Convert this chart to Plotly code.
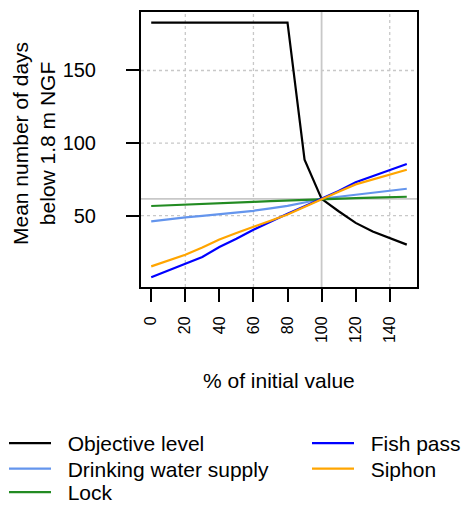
import plotly.graph_objects as go

pct = [0, 10, 20, 30, 40, 50, 60, 70, 80, 90, 100, 110, 120, 130, 140, 150]
objective = [183, 183, 183, 183, 183, 183, 183, 183, 183, 88.5, 61.5, 53, 45, 39, 34.5, 30]
drinking = [46, 47.5, 48.8, 49.8, 50.8, 52, 53.3, 55, 56.7, 59, 61.5, 63, 64.5, 66, 67.3, 68.5]
lock = [56.6, 57, 57.5, 58, 58.6, 59, 59.5, 60, 60.5, 61, 61.5, 61.8, 62.1, 62.4, 62.7, 63]
fishpass = [7.5, 12.3, 17, 21.5, 28.4, 34, 40.3, 46, 51.3, 56.5, 61.5, 67, 73, 77, 81, 85.5]
siphon = [15, 19, 23, 28, 33.5, 38, 42, 46.5, 50.7, 56, 61.5, 66.5, 71.5, 75, 78.2, 81.6]

x_ticks = [0, 20, 40, 60, 80, 100, 120, 140]
y_ticks = [50, 100, 150]
x_grid = [20, 60, 140]
y_grid = [50, 100, 150]
ref_x = 100
ref_y = 61.5

# name, values, colour, legend column, legend row
series = [
    ("Objective level", objective, "#000000", 0, 0),
    ("Drinking water supply", drinking, "#6495ED", 0, 1),
    ("Lock", lock, "#228B22", 0, 2),
    ("Fish pass", fishpass, "#0000FF", 1, 0),
    ("Siphon", siphon, "#FFA500", 1, 1),
]

FONT = "Liberation Sans, Arial, sans-serif"
OFF = 8  # page body margin
W, H = 469 - OFF, 506 - OFF
L, T = 141 - OFF, 12 - OFF
R = W - (417 - OFF)
B = H - (287 - OFF)
PW, PH = W - L - R, H - T - B


def px(x):
    return (x - OFF - L) / PW


def py(y):
    return (H - B - (y - OFF)) / PH


col_x = [4, 307]
row_y = [445, 470.5, 494]
ROW_OFF = 22
PAD = "\u00a0\u00a0"

fig = go.Figure()
legends = {}
for i, (name, vals, col, c, r) in enumerate(series):
    lid = "legend" if i == 0 else "legend%d" % (i + 1)
    fig.add_trace(go.Scatter(x=pct, y=vals, mode="lines", name=PAD + name,
                             line=dict(color=col, width=2.2), legend=lid))
    legends[lid] = dict(orientation="v", xanchor="left", yanchor="top",
                        x=px(col_x[c]), y=py(row_y[r] - ROW_OFF),
                        font=dict(size=21), bgcolor="rgba(0,0,0,0)",
                        itemwidth=42)

shapes = []
for gx in x_grid:
    shapes.append(dict(type="line", xref="x", yref="paper", x0=gx, x1=gx, y0=0, y1=1,
                       line=dict(color="#C8C8C8", width=1.3, dash="dot"), layer="below"))
for gy in y_grid:
    shapes.append(dict(type="line", xref="paper", yref="y", x0=0, x1=1, y0=gy, y1=gy,
                       line=dict(color="#C8C8C8", width=1.3, dash="dot"), layer="below"))
shapes.append(dict(type="line", xref="x", yref="paper", x0=ref_x, x1=ref_x, y0=0, y1=1,
                   line=dict(color="#C8C8C8", width=1.8), layer="below"))
shapes.append(dict(type="line", xref="paper", yref="y", x0=0, x1=1, y0=ref_y, y1=ref_y,
                   line=dict(color="#C8C8C8", width=1.8), layer="below"))

fig.update_layout(
    width=W, height=H,
    margin=dict(l=L, r=R, t=T, b=B, autoexpand=False),
    plot_bgcolor="white", paper_bgcolor="white",
    font=dict(family=FONT, color="black", size=21),
    shapes=shapes,
    xaxis=dict(range=[-6, 156], tickvals=x_ticks, ticktext=[str(v) for v in x_ticks],
               tickangle=-90, ticks="outside", ticklen=13, tickwidth=1.5, tickcolor="black",
               showline=True, linecolor="black", linewidth=2, mirror=True,
               showgrid=False, zeroline=False, tickfont=dict(size=16),
               ticklabelstandoff=8, automargin=False),
    yaxis=dict(range=[0.8, 190.3], tickvals=y_ticks, ticks="outside", ticklen=13,
               tickwidth=1.5, tickcolor="black",
               showline=True, linecolor="black", linewidth=2, mirror=True,
               showgrid=False, zeroline=False, tickfont=dict(size=20),
               ticklabelstandoff=26, automargin=False),
    showlegend=True,
    annotations=[
        dict(text="Mean number of days<br>below 1.8 m NGF", xref="paper", yref="paper",
             x=px(34), y=py(144), xanchor="center", yanchor="middle",
             textangle=-90, showarrow=False, font=dict(size=21)),
        dict(text="% of initial value", xref="paper", yref="paper",
             x=0.5, y=py(380), xanchor="center", yanchor="middle",
             showarrow=False, font=dict(size=21)),
    ],
    **legends,
)

fig.write_html("out.html")
